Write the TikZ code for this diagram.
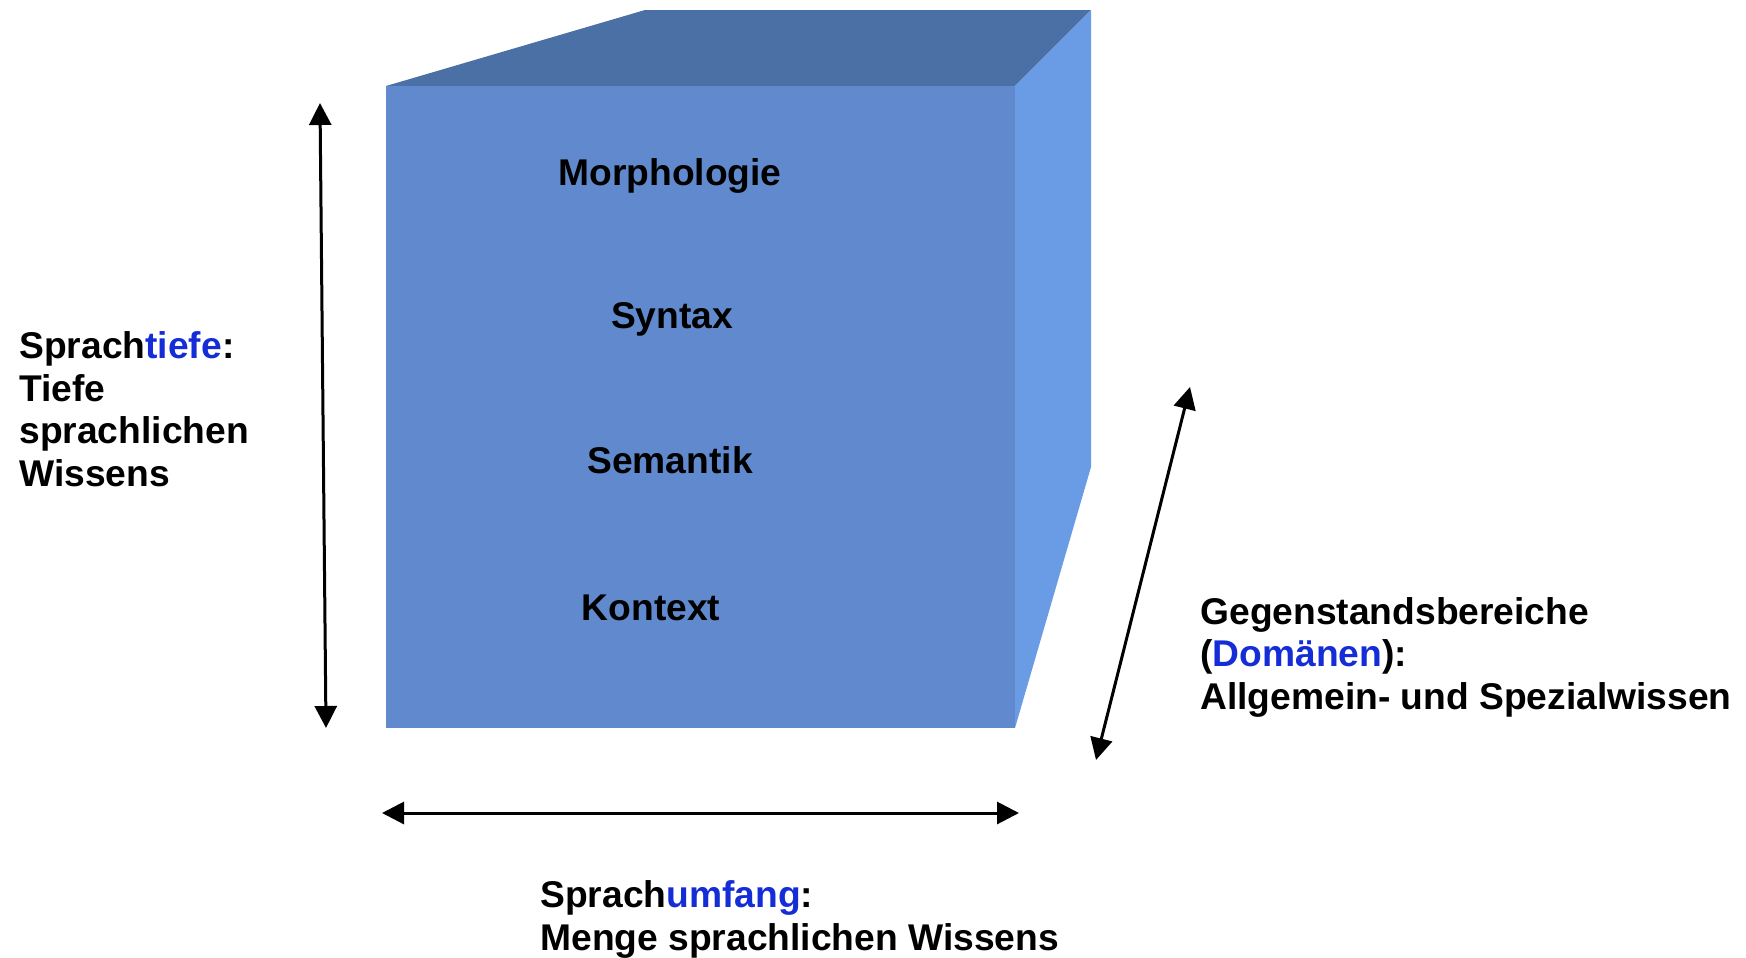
\documentclass[tikz,border=0pt]{standalone}
\usepackage{fontspec}
\setmainfont{Liberation Sans}
\usetikzlibrary{arrows.meta}
\definecolor{frontblue}{RGB}{96,138,205}
\definecolor{topblue}{RGB}{75,112,166}
\definecolor{sideblue}{RGB}{106,155,229}
\definecolor{accent}{RGB}{20,45,215}
\begin{document}
\begin{tikzpicture}[x=0.5pt,y=-0.5pt,
  lbl/.style={font=\fontsize{18.6}{21.2}\selectfont\bfseries, inner sep=0pt},
  % base anchor of a multi-line node sits on its last line
  multi/.style={lbl, align=left, anchor=base west},
  dimarrow/.style={line width=1.5pt,
    {Triangle[length=11pt,width=11pt]}-{Triangle[length=11pt,width=11pt]}}]
\useasboundingbox (0,0) rectangle (1746,958);
% cube corners
\coordinate (ftl) at (386,86);
\coordinate (ftr) at (1015,86);
\coordinate (fbl) at (386,728);
\coordinate (fbr) at (1015,728);
\coordinate (btl) at (645,10);
\coordinate (btr) at (1091,10);
\coordinate (bbr) at (1091,467);
% faces
\fill[topblue] (ftl) -- (btl) -- (btr) -- (ftr) -- cycle;
\fill[sideblue] (ftr) -- (btr) -- (bbr) -- (fbr) -- cycle;
\fill[frontblue] (ftl) rectangle (fbr);
% layer labels
\node[lbl, anchor=base] (morph) at (670,185) {Morphologie};
\node[lbl, anchor=base] (syn) at (672,328) {Syntax};
\node[lbl, anchor=base] (sem) at (670,473) {Semantik};
\node[lbl, anchor=base] (kon) at (651,620) {Kontext};
% axis labels
\node[multi] (tiefe) at (19,486) {Sprach\textcolor{accent}{tiefe}:\\Tiefe\\sprachlichen\\Wissens};
\node[multi] (dom) at (1200,709) {Gegenstandsbereiche\\(\textcolor{accent}{Domänen}):\\Allgemein- und Spezialwissen};
\node[multi] (umf) at (540,950) {Sprach\textcolor{accent}{umfang}:\\Menge sprachlichen Wissens};
% arrow ends
\coordinate (vtop) at (320,103);
\coordinate (vbot) at (326,728);
\coordinate (dtop) at (1190,387);
\coordinate (dbot) at (1096,760);
\coordinate (hl) at (382,813);
\coordinate (hr) at (1019,813);
\draw[dimarrow] (vtop) -- (vbot);
\draw[dimarrow] (dtop) -- (dbot);
\draw[dimarrow] (hl) -- (hr);
\end{tikzpicture}
\end{document}
